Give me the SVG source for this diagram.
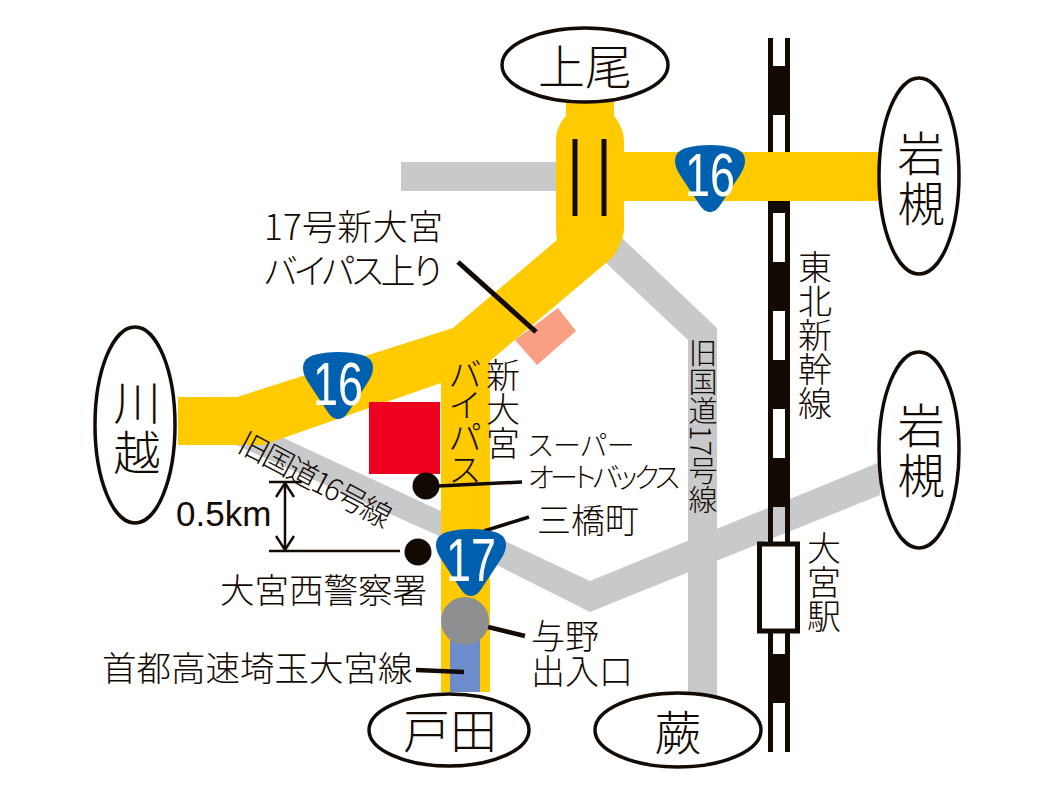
<svg xmlns="http://www.w3.org/2000/svg" xmlns:xlink="http://www.w3.org/1999/xlink" width="1063" height="797" viewBox="0 0 1063 797">
<style>
text{font-family:"Noto Sans CJK JP","Liberation Sans",sans-serif;fill:#140a04;font-weight:300}
.s34{font-size:34px}.s47{font-size:47px}
.v{writing-mode:vertical-rl;text-anchor:start}
.pal{font-feature-settings:"palt"}
.vpal{font-feature-settings:"vpal"}
.gray{fill:#c8c9ca}.yel{fill:#ffcb00}
.ln{stroke:#140a04;fill:none}
.oval{fill:#fff;stroke:#140a04;stroke-width:3.5}
.num{font-family:"Liberation Sans",sans-serif;fill:#fff;font-size:61px;text-anchor:middle;font-weight:400}
.blk{fill:#140a04}
</style>
<defs>
<path id="shield" d="M-35,13C-35,5-30,2-24,0C-10,-4 10,-4 24,0C30,2 35,5 35,13C35,18 33,22 30,27L11,56C7,62 4,64 0,64C-4,64-7,62-11,56L-30,27C-33,22-35,18-35,13Z" fill="#0060b0"/>
<marker id="ah" viewBox="0 0 20 20" refX="17" refY="10" markerWidth="20" markerHeight="20" markerUnits="userSpaceOnUse" orient="auto-start-reverse"><path d="M3,1L17,10L3,19" fill="none" stroke="#140a04" stroke-width="2.5"/></marker>
</defs>
<rect width="1063" height="797" fill="#fff"/>

<g id="connectors">
<g id="gray-roads">
<rect class="gray" x="401" y="162" width="160" height="29"/>
<path class="gray" d="M606,263L688,340V695H717V328L622,238Z"/>
<path class="gray" d="M262,428L443,512L590,581L880,462V495L590,612L437,535L236,445Z"/>
</g>
<polygon id="orange-block" points="558,308 576,331 537,365 515,340" fill="#fb9f82"/>
<g id="railway">
<rect class="blk" x="768" y="38" width="5" height="714"/>
<rect class="blk" x="785" y="38" width="5" height="714"/>
<rect class="blk" x="768" y="66" width="22" height="49"/>
<rect class="blk" x="768" y="164" width="22" height="49"/>
<rect class="blk" x="768" y="262" width="22" height="49"/>
<rect class="blk" x="768" y="360" width="22" height="49"/>
<rect class="blk" x="768" y="458" width="22" height="49"/>
<rect class="blk" x="768" y="654" width="22" height="49"/>
</g>
<g id="yellow-roads">
<rect class="yel" x="610" y="152" width="270" height="49"/>
<path class="yel" d="M566,100H614V116C620,123 624,132 624,142V228C624,238 619,247 613,257L490,361V692H441V383L263,445H178V397H237L453,328L557,240C556,234 556,228 556,222V142C556,132 559,123 566,116Z"/>
</g>
<rect id="expressway" x="450" y="640" width="30" height="52" fill="#6c8ccb"/>
<g class="ln">
<path stroke-width="5" d="M575,139V216M604,139V216"/>
<path stroke-width="5" d="M458,262L536,332"/>
<path stroke-width="3.5" d="M438,486L522,482"/>
<path stroke-width="3.5" d="M484,531L529,517"/>
<path stroke-width="4.5" d="M476,624L525,636"/>
<path stroke-width="4.500" d="M416,670L464,672"/>
<path stroke-width="2.5" d="M269,482H302M269,551H400"/>
<path stroke-width="2.5" d="M285,483V550" marker-start="url(#ah)" marker-end="url(#ah)"/>
</g>
</g>

<g id="site"><rect x="369" y="402" width="71" height="72" fill="#f00020"/></g>
<g id="jct-yono"><circle cx="465" cy="621" r="24" fill="#8e8f91"/></g>
<g id="dot-autobacs"><circle class="blk" cx="426" cy="486" r="13.5"/></g>
<g id="dot-police"><circle class="blk" cx="418" cy="552" r="13.5"/></g>

<g id="shield-16a"><use xlink:href="#shield" href="#shield" x="710" y="148"/><text class="num" x="710" y="196" textLength="50" lengthAdjust="spacingAndGlyphs">16</text></g>
<g id="shield-16b"><use xlink:href="#shield" href="#shield" x="338" y="355"/><text class="num" x="338" y="405" textLength="50" lengthAdjust="spacingAndGlyphs">16</text></g>
<g id="shield-17"><use xlink:href="#shield" href="#shield" x="471" y="532"/><text class="num" x="471" y="581" textLength="50" lengthAdjust="spacingAndGlyphs">17</text></g>

<g id="node-ageo"><ellipse class="oval" cx="585" cy="65" rx="83" ry="37"/><text class="s47" x="585" y="84" text-anchor="middle">上尾</text></g>
<g id="node-iwatsuki1"><ellipse class="oval" cx="919" cy="176" rx="40" ry="98"/><text class="s47" x="921" y="171" text-anchor="middle">岩</text><text class="s47" x="921" y="221" text-anchor="middle">槻</text></g>
<g id="node-iwatsuki2"><ellipse class="oval" cx="919" cy="450" rx="40" ry="98"/><text class="s47" x="921" y="443" text-anchor="middle">岩</text><text class="s47" x="921" y="493" text-anchor="middle">槻</text></g>
<g id="node-kawagoe"><ellipse class="oval" cx="135" cy="425" rx="40" ry="98"/><text class="s47" x="137" y="420" text-anchor="middle">川</text><text class="s47" x="137" y="470" text-anchor="middle">越</text></g>
<g id="node-toda"><ellipse class="oval" cx="449" cy="730" rx="80" ry="36"/><text class="s47" x="450" y="748" text-anchor="middle">戸田</text></g>
<g id="node-warabi"><ellipse class="oval" cx="678" cy="730" rx="83" ry="37"/><text class="s47" x="678" y="750" text-anchor="middle">蕨</text></g>
<g id="node-omiya-station"><rect x="759.500" y="544" width="38" height="87" fill="#fff" stroke="#140a04" stroke-width="5"/></g>

<g id="labels">
<text x="264" y="240" style="font-size:35px" textLength="179">17号新大宮</text>
<text class="pal" x="264" y="284" style="font-size:35px" textLength="178">バイパス上り</text>
<text class="s34 v" x="503" y="358">新大宮</text>
<text class="s34 v vpal" x="465" y="358">バイパス</text>
<text class="v" x="703" y="338" style="font-size:29px">旧国道<tspan style="text-combine-upright:all">17</tspan>号線</text>
<text class="s34 v" x="815" y="250">東北新幹線</text>
<text class="s34 v" x="824" y="531">大宮駅</text>
<text class="pal" x="528" y="456" style="font-size:28px">スーパー</text>
<text class="pal" x="528" y="488" style="font-size:28px" textLength="152">オートバックス</text>
<text class="s34" x="537" y="533">三橋町</text>
<text x="176" y="526" style="font-size:35px;font-family:'Liberation Sans',sans-serif">0.5km</text>
<text x="220" y="603" style="font-size:34.500px">大宮西警察署</text>
<text class="s34" x="531" y="649">与野</text>
<text class="s34" x="531" y="684">出入口</text>
<text x="102" y="681" style="font-size:34.500px">首都高速埼玉大宮線</text>
<text transform="translate(236,450) rotate(28)" style="font-size:30px" textLength="168">旧国道16号線</text>
</g>
</svg>
